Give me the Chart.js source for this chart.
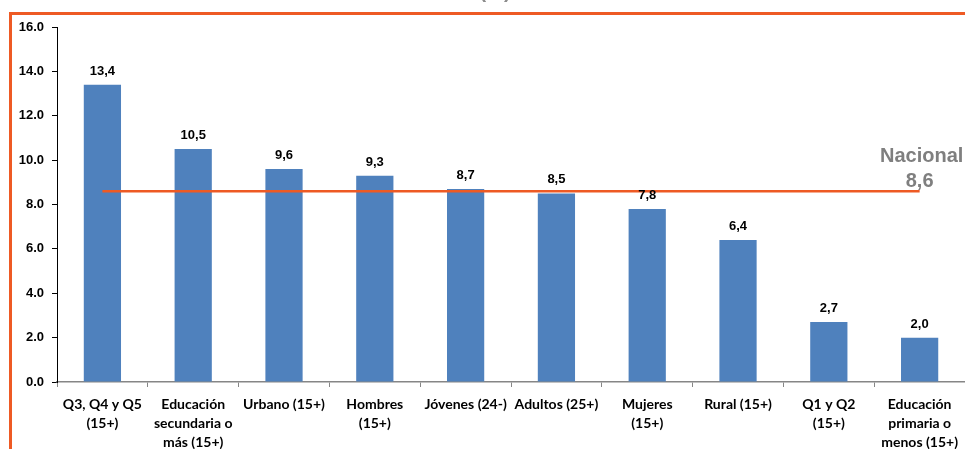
<!DOCTYPE html>
<html>
<head>
<meta charset="utf-8">
<script src="https://cdn.jsdelivr.net/npm/chart.js@4.4.1/dist/chart.umd.min.js"></script>
<style>
html,body{margin:0;padding:0;background:#fff;overflow:hidden;}
#wrap{position:relative;width:966px;height:449px;}
</style>
</head>
<body>
<div id="wrap"><canvas id="c" width="966" height="449"></canvas></div>
<script>
const categories = [
  ["Q3, Q4 y Q5","(15+)"],
  ["Educación","secundaria o","más (15+)"],
  ["Urbano (15+)"],
  ["Hombres","(15+)"],
  ["Jóvenes (24-)"],
  ["Adultos (25+)"],
  ["Mujeres","(15+)"],
  ["Rural (15+)"],
  ["Q1 y Q2","(15+)"],
  ["Educación","primaria o","menos (15+)"]
];
const values = [13.4, 10.5, 9.6, 9.3, 8.7, 8.5, 7.8, 6.4, 2.7, 2.0];
const nacionalValue = 8.6;
const nacionalLabel = "Nacional";
const unitTitle = "(%)";
const yTicks = { min: 0, max: 16, step: 2 };

const ORANGE = '#EE5A24';
const fmt = v => v.toFixed(1).replace('.', ',');

const extrasPlugin = {
  id: 'extras',
  afterDatasetsDraw(chart) {
    const ctx = chart.ctx;
    ctx.save();
    // data labels
    const meta = chart.getDatasetMeta(1);
    ctx.fillStyle = '#000';
    ctx.font = 'bold 13px "Liberation Sans", Arial, sans-serif';
    ctx.textAlign = 'center';
    ctx.textBaseline = 'alphabetic';
    meta.data.forEach((bar, i) => {
      ctx.fillText(fmt(values[i]), bar.x, bar.y - 10);
    });
    // nacional label
    const xs = chart.scales.x, ys = chart.scales.y;
    const lx = xs.getPixelForValue(categories.length - 1);
    const ly = ys.getPixelForValue(nacionalValue);
    ctx.fillStyle = '#7F7F7F';
    ctx.font = 'bold 20px "Liberation Sans", Arial, sans-serif';
    ctx.fillText(nacionalLabel, lx + 2, ly - 29);
    ctx.fillText(fmt(nacionalValue), lx, ly - 4);
    // title fragment (cut off at top of picture)
    ctx.fillStyle = '#8C8C8C';
    ctx.font = 'bold 20px "Liberation Sans", Arial, sans-serif';
    ctx.fillText(unitTitle, 495, -2);
    // border
    ctx.strokeStyle = ORANGE;
    ctx.lineWidth = 3;
    ctx.beginPath();
    ctx.moveTo(10.5, 470);
    ctx.lineTo(10.5, 13.5);
    ctx.lineTo(1000, 13.5);
    ctx.stroke();
    ctx.restore();
  }
};

new Chart(document.getElementById('c'), {
  type: 'bar',
  data: {
    labels: categories,
    datasets: [
      {
        type: 'line',
        label: 'Nacional',
        data: categories.map(() => nacionalValue),
        borderColor: ORANGE,
        borderWidth: 2.5,
        pointRadius: 0,
        fill: false,
        order: 1
      },
      {
        type: 'bar',
        label: 'Valor',
        data: values,
        backgroundColor: '#4F81BD',
        barPercentage: 0.41,
        categoryPercentage: 1,
        order: 2
      }
    ]
  },
  plugins: [extrasPlugin],
  options: {
    responsive: false,
    animation: false,
    devicePixelRatio: 1,
    layout: { padding: { top: 27, left: 0, right: 0, bottom: 0 } },
    plugins: { legend: { display: false }, tooltip: { enabled: false } },
    scales: {
      x: {
        offset: true,
        grid: { offset: true, drawOnChartArea: false, drawTicks: true, tickLength: 5, color: '#868686' },
        border: { color: '#868686', width: 1.5 },
        ticks: {
          color: '#000',
          padding: 8,
          maxRotation: 0,
          autoSkip: false,
          font: { family: 'Lato, "Open Sans", sans-serif', weight: 'bold', size: 14, lineHeight: 1.36 }
        },
        afterFit(s) { s.height = 67; }
      },
      y: {
        min: yTicks.min,
        max: yTicks.max,
        grid: { drawOnChartArea: false, drawTicks: true, tickLength: 5, color: '#000' },
        border: { color: '#000', width: 1 },
        ticks: {
          stepSize: yTicks.step,
          color: '#000',
          padding: 8,
          callback: v => v.toFixed(1),
          font: { family: '"Liberation Sans", Arial, sans-serif', weight: 'bold', size: 13 }
        },
        afterFit(s) { s.width = 57; }
      }
    }
  }
});
</script>
</body>
</html>
